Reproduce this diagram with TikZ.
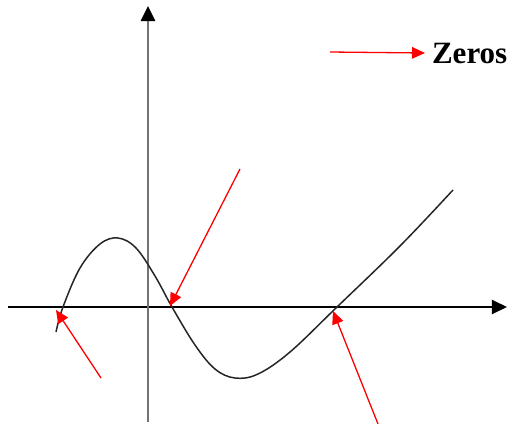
\documentclass[tikz,border=0pt]{standalone}
\usepackage{fontspec}
\setmainfont{Liberation Serif}
\usetikzlibrary{arrows.meta}

\begin{document}
\begin{tikzpicture}[x=0.5pt,y=-0.5pt,
  axis/.style={-{Triangle[length=7.5pt,width=7pt,color=black]},line width=1pt},
  pointer/.style={-{Triangle[length=6.5pt,width=5.8pt]},red,line width=0.65pt},
  curve/.style={line width=0.75pt,black!85}
]
  \useasboundingbox (0,0) rectangle (516,424);

  % axes
  \coordinate (xl) at (8,307);
  \coordinate (xr) at (507,307);
  \coordinate (yb) at (148,422);
  \coordinate (yt) at (148,6);
  \draw[axis] (xl) -- (xr);
  \draw[axis,black!55,line width=1.3pt] (yb) -- (yt);

  % the function
  \draw[curve] plot[smooth,tension=0.6] coordinates {
    (56,332) (63,307) (80,268) (100,244) (118,238) (136,248) (155,276)
    (172,307) (195,345) (215,369) (235,378) (258,374) (290,352)
    (337,307) (400,246) (453,190)};

  % zeros and where the pointers start
  \coordinate (z1) at (56,310);
  \coordinate (z2) at (170,306);
  \coordinate (z3) at (333,311);
  \coordinate (t1) at (101,378);
  \coordinate (t2) at (240,169);
  \coordinate (t3) at (378,424);
  \draw[pointer] (t1) -- (z1);
  \draw[pointer] (t2) -- (z2);
  \draw[pointer] (t3) -- (z3);

  % legend
  \coordinate (key) at (330,52);
  \node[anchor=west,font=\bfseries\fontsize{15.5}{18}\selectfont] (label) at (425,53) {Zeros};
  \draw[pointer] (key) -- (label.west);
\end{tikzpicture}
\end{document}
